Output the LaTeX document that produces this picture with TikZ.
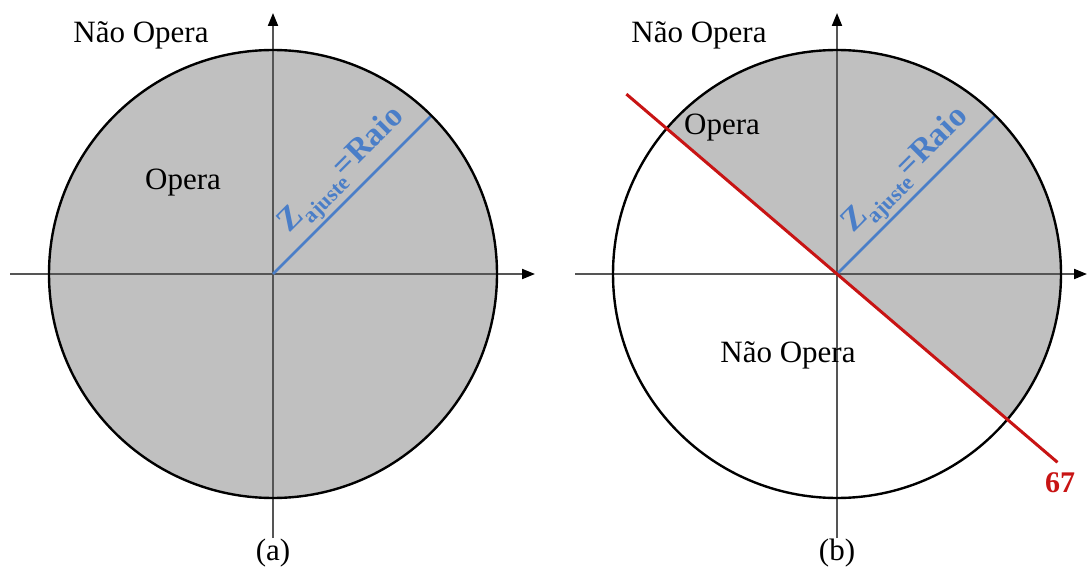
\documentclass[tikz,border=0pt]{standalone}
\usepackage{fontspec}
\setmainfont{Liberation Serif}
\usetikzlibrary{arrows.meta,calc}
\definecolor{opfill}{RGB}{192,192,192}
\definecolor{axisgray}{RGB}{85,85,85}
\definecolor{zblue}{RGB}{74,126,200}
\definecolor{dirred}{RGB}{200,20,20}
\newcommand{\zlabel}{Z\raisebox{-0.28em}{\fontsize{22}{24}\selectfont ajuste}=Raio}
\begin{document}
\begin{tikzpicture}[x=1pt,y=1pt,
  axis/.style={draw=axisgray, line width=2pt, -{Triangle[length=13pt,width=10pt,color=black]}},
  rim/.style={draw=black, line width=2.4pt},
  zline/.style={draw=zblue, line width=2.6pt},
  dirline/.style={draw=dirred, line width=3pt},
  lbl/.style={font=\fontsize{31}{36}\selectfont, inner sep=0pt},
  zlbl/.style={text=zblue, font=\bfseries\fontsize{33}{38}\selectfont, inner sep=0pt, anchor=base west, rotate=45},
  tag/.style={text=dirred, font=\bfseries\fontsize{30}{34}\selectfont, inner sep=0pt}
]
\useasboundingbox (0,0) rectangle (1087,574);

% ---------- (a) ----------
\coordinate (O1) at (273,300);
\coordinate (W1) at (10,300);
\coordinate (E1) at (535,300);
\coordinate (S1) at (273,36);
\coordinate (N1) at (273,561);
\coordinate (R1) at ($(O1)+(45:224)$);
\fill[opfill] (O1) circle[radius=224];
\draw[axis] (W1) -- (E1);
\draw[axis] (S1) -- (N1);
\draw[zline] (O1) -- (R1);
\draw[rim] (O1) circle[radius=224];
\node[zlbl] (z1) at ($(O1)+(45:40)+(135:17)$) {\zlabel};
\node[lbl] (no1) at (141,539) {Não Opera};
\node[lbl] (op1) at (183,391) {Opera};
\node[lbl] (ca) at (273,21) {(a)};

% ---------- (b) ----------
\coordinate (O2) at (837,300);
\coordinate (W2) at (575,300);
\coordinate (E2) at (1087,300);
\coordinate (S2) at (837,36);
\coordinate (N2) at (837,561);
\coordinate (R2) at ($(O2)+(45:224)$);
\coordinate (D1) at ($(O2)+(139.5:277)$);
\coordinate (D2) at ($(O2)+(-40.5:290)$);
\fill[opfill] (O2) -- ($(O2)+(-40.5:224)$) arc[start angle=-40.5, end angle=139.5, radius=224] -- cycle;
\draw[axis] (W2) -- (E2);
\draw[axis] (S2) -- (N2);
\draw[zline] (O2) -- (R2);
\draw[rim] (O2) circle[radius=224];
\draw[dirline] (D1) -- (D2);
\node[zlbl] (z2) at ($(O2)+(45:40)+(135:17)$) {\zlabel};
\node[lbl] (no2) at (699,539) {Não Opera};
\node[lbl] (op2) at (722,446) {Opera};
\node[lbl] (no3) at (788,219) {Não Opera};
\node[tag] (t67) at (1060,91) {67};
\node[lbl] (cb) at (837,21) {(b)};
\end{tikzpicture}
\end{document}
